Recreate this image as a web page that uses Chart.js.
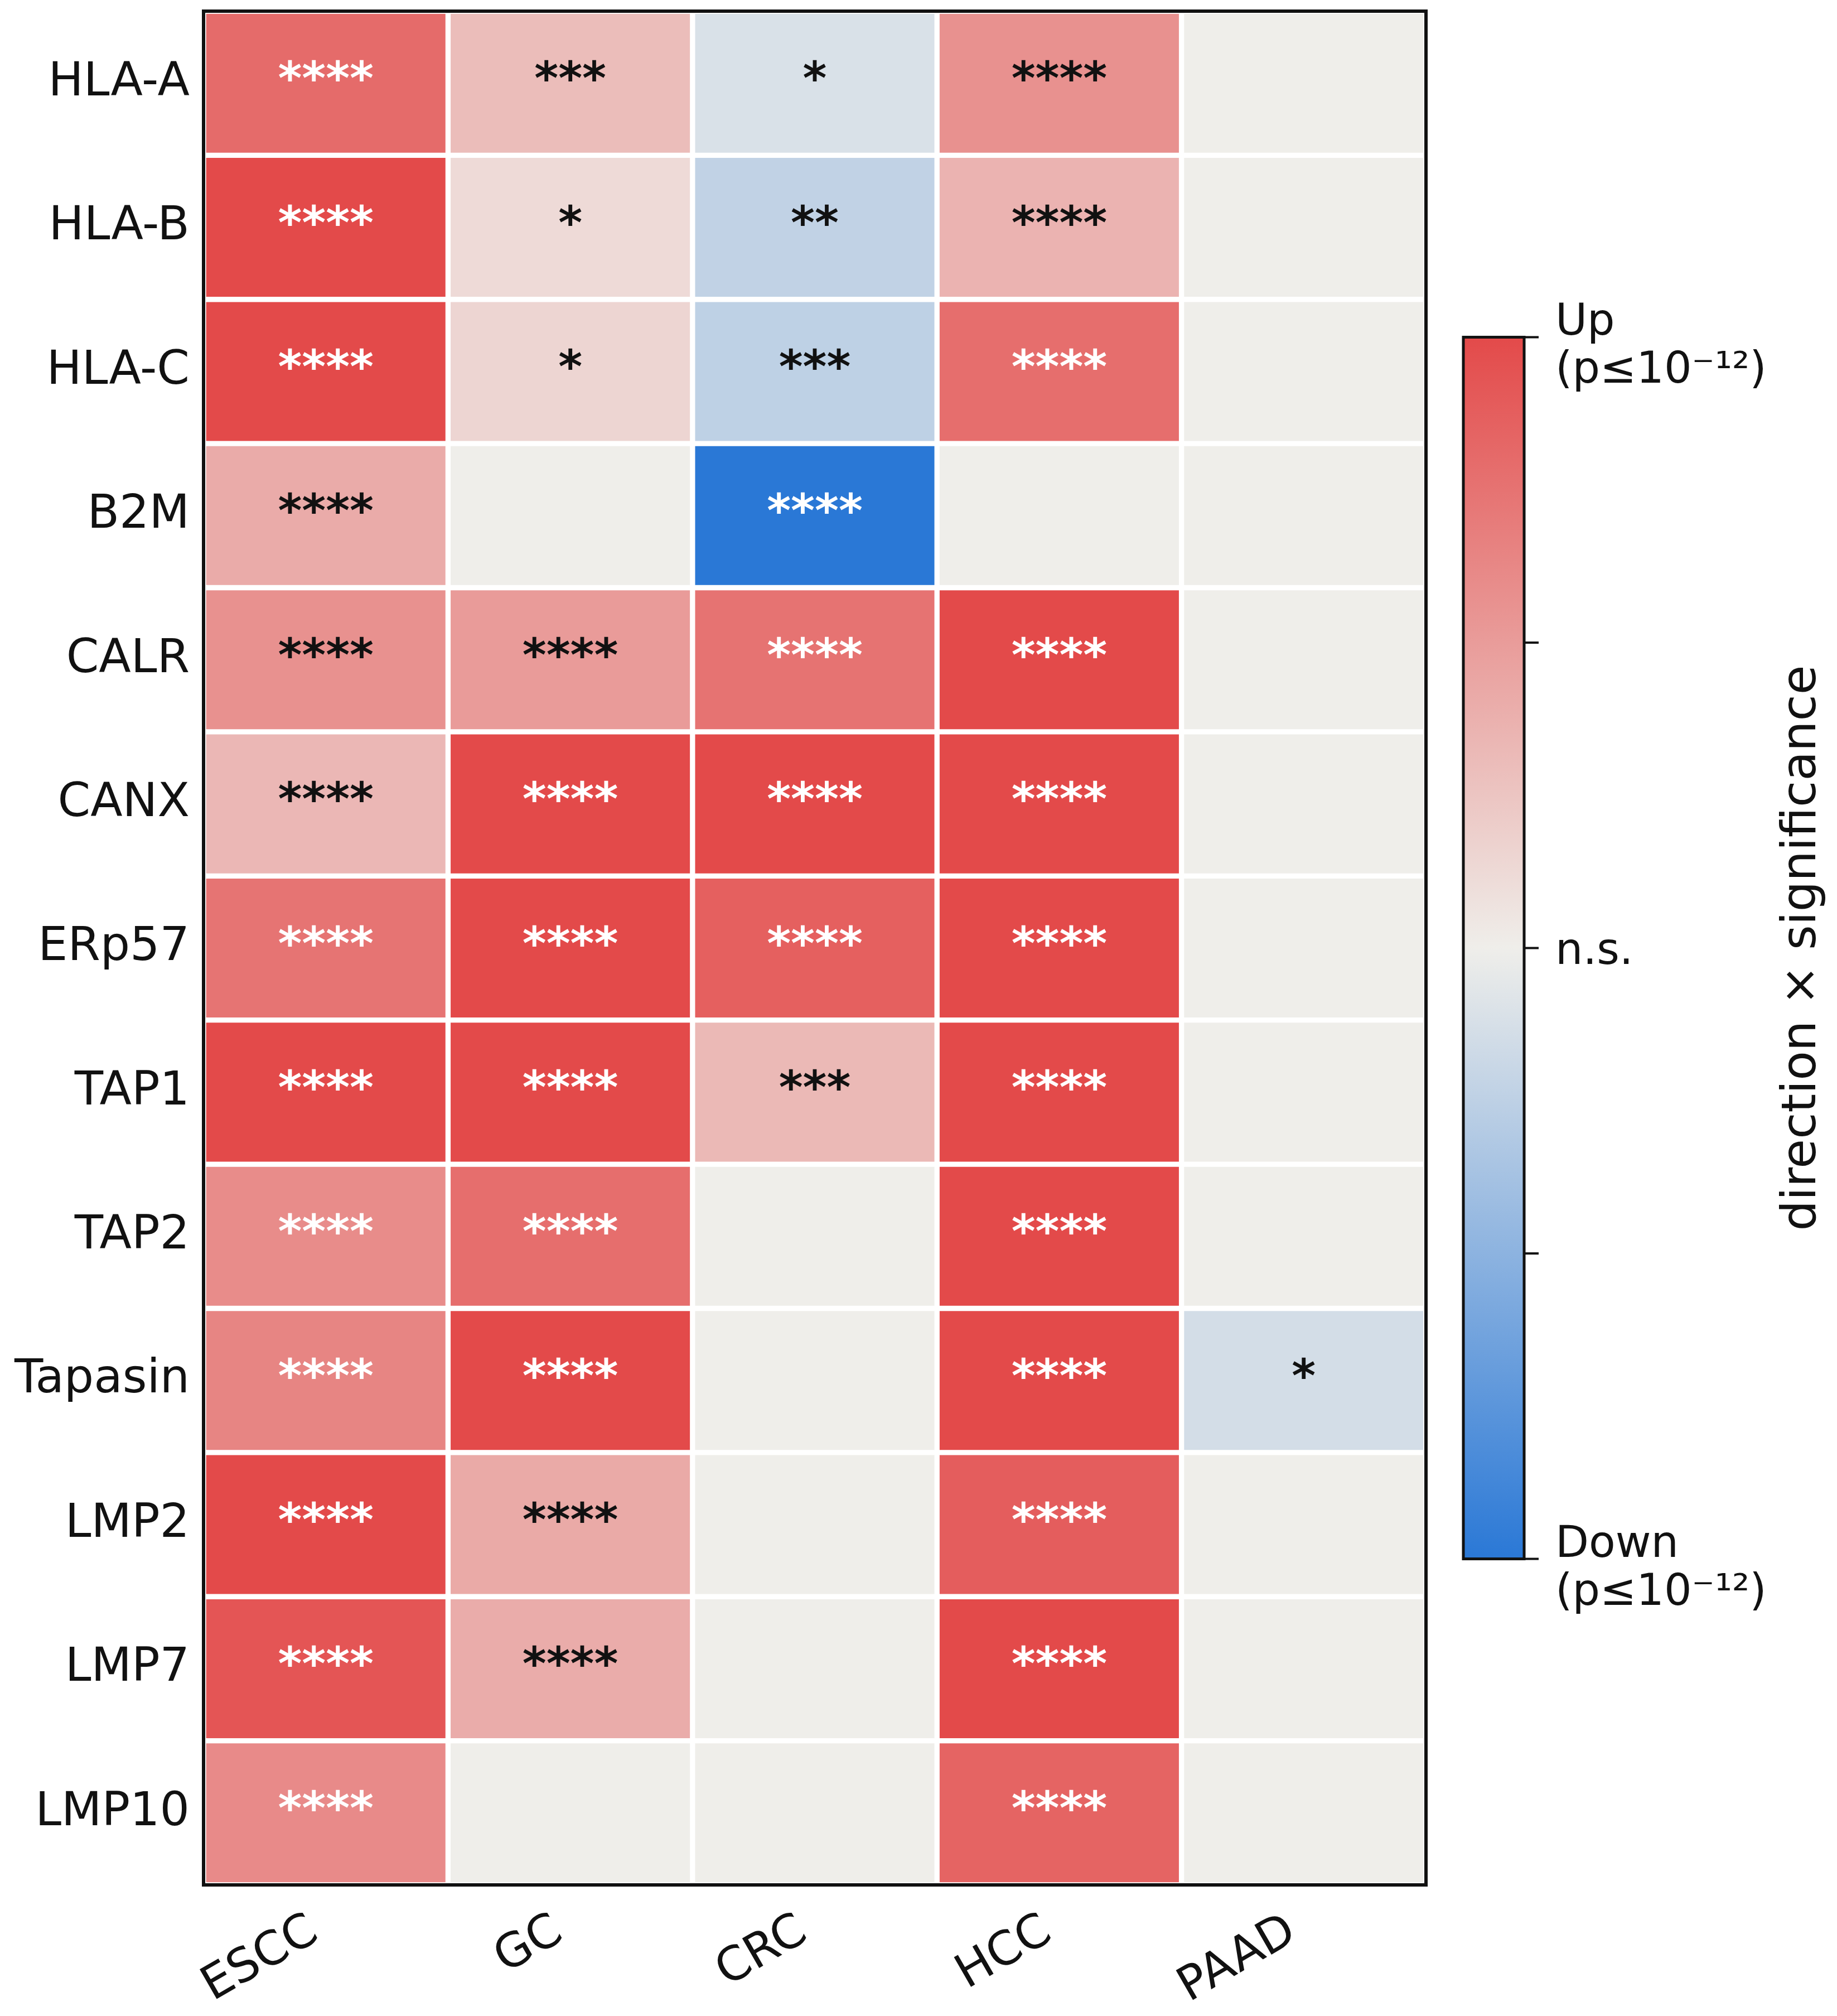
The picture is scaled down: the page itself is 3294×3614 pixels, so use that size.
<!DOCTYPE html>
<html>
<head>
<meta charset="utf-8">
<script src="https://cdn.jsdelivr.net/npm/chart.js@4.4.1/dist/chart.umd.min.js"></script>
<style>html,body{margin:0;padding:0;background:#ffffff;}canvas{display:block;}</style>
</head>
<body>
<canvas id="c" width="3294" height="3614"></canvas>
<script>
// ---- data ----
const genes = ["HLA-A","HLA-B","HLA-C","B2M","CALR","CANX","ERp57","TAP1","TAP2","Tapasin","LMP2","LMP7","LMP10"];
const cancers = ["ESCC","GC","CRC","HCC","PAAD"];
// signed -log10(p), capped at ±12 (positive = up, negative = down, 0 = n.s.)
const escc = [9.6, 12, 12, 4.9, 6.8, 4.0, 8.9, 12, 7.2, 7.7, 12, 11.2, 7.3];
const gc   = [3.6, 1.45, 1.8, 0, 6.1, 12, 12, 12, 9.4, 12, 5.0, 4.8, 0];
const crc  = [-1.35, -2.8, -3.0, -12, 9.0, 12, 10.4, 3.9, 0, 0, 0, 0, 0];
const hcc  = [6.8, 4.3, 9.4, 0, 12, 12, 12, 12, 12, 12, 10.6, 12, 10.1];
const paad = [0, 0, 0, 0, 0, 0, 0, 0, 0, -1.7, 0, 0, 0];
const esccStars = ["****","****","****","****","****","****","****","****","****","****","****","****","****"];
const gcStars   = ["***","*","*","","****","****","****","****","****","****","****","****",""];
const crcStars  = ["*","**","***","****","****","****","****","***","","","","",""];
const hccStars  = ["****","****","****","","****","****","****","****","****","****","****","****","****"];
const paadStars = ["","","","","","","","","","*","","",""];
const cbarTicks = [-12, -6, 0, 6, 12];
const cbarTickLabels = [["Down","(p\u226410\u207B\u00B9\u00B2)"], [], ["n.s."], [], ["Up","(p\u226410\u207B\u00B9\u00B2)"]];
const cbarTitle = "direction \u00D7 significance";
const lightTextAbove = 7.0;

const columns = [escc, gc, crc, hcc, paad];
const columnStars = [esccStars, gcStars, crcStars, hccStars, paadStars];

// ---- colour map ----
const cMid = [239, 238, 234], cUp = [227, 74, 74], cDown = [42, 120, 214];
function cmap(v) {
  const t = Math.max(-1, Math.min(1, v / 12));
  const end = t >= 0 ? cUp : cDown;
  const a = Math.abs(t);
  const c = cMid.map((m, i) => Math.round(m + (end[i] - m) * a));
  return `rgb(${c[0]},${c[1]},${c[2]})`;
}

const FONT = '"DejaVu Sans", "Liberation Sans", sans-serif';

const datasets = columns.map((vals, k) => ({
  label: cancers[k],
  data: vals.map(() => [k, k + 1]),
  backgroundColor: vals.map(cmap),
  borderColor: '#ffffff',
  borderWidth: 5,
  borderSkipped: false,
  grouped: false,
  barPercentage: 1,
  categoryPercentage: 1
}));

const starsPlugin = {
  id: 'stars',
  afterDatasetsDraw(chart) {
    const ctx = chart.ctx;
    ctx.save();
    ctx.font = 'bold 82px ' + FONT;
    ctx.textAlign = 'center';
    ctx.textBaseline = 'alphabetic';
    columns.forEach((vals, k) => {
      const meta = chart.getDatasetMeta(k);
      meta.data.forEach((el, i) => {
        const s = columnStars[k][i];
        if (!s) return;
        const p = el.getCenterPoint();
        ctx.fillStyle = Math.abs(vals[i]) >= lightTextAbove ? '#ffffff' : '#111111';
        ctx.fillText(s, p.x, p.y + 20);
      });
    });
    // frame
    const a = chart.chartArea;
    ctx.strokeStyle = '#111111';
    ctx.lineWidth = 6;
    ctx.strokeRect(a.left, a.top, a.right - a.left, a.bottom - a.top);
    ctx.restore();
  }
};

const colorbarPlugin = {
  id: 'colorbar',
  afterDraw(chart) {
    const ctx = chart.ctx;
    const a = chart.chartArea;
    const h = (a.bottom - a.top) * 0.652;
    const top = (a.top + a.bottom) / 2 - h / 2;
    const bottom = top + h;
    const left = a.right + 67;
    const right = left + 109;
    const yOf = v => bottom - (v - cbarTicks[0]) / (cbarTicks[cbarTicks.length - 1] - cbarTicks[0]) * h;
    ctx.save();
    const g = ctx.createLinearGradient(0, top, 0, bottom);
    g.addColorStop(0, cmap(12));
    g.addColorStop(0.5, cmap(0));
    g.addColorStop(1, cmap(-12));
    ctx.fillStyle = g;
    ctx.fillRect(left, top, right - left, h);
    ctx.strokeStyle = '#111111';
    ctx.lineWidth = 5;
    ctx.strokeRect(left, top, right - left, h);
    // ticks + labels
    ctx.lineWidth = 4;
    ctx.fillStyle = '#111111';
    ctx.font = '78px ' + FONT;
    ctx.textAlign = 'left';
    ctx.textBaseline = 'alphabetic';
    cbarTicks.forEach((v, i) => {
      const y = yOf(v);
      ctx.beginPath();
      ctx.moveTo(right, y);
      ctx.lineTo(right + 26, y);
      ctx.stroke();
      const lines = cbarTickLabels[i];
      if (lines.length === 1) {
        ctx.fillText(lines[0], right + 56, y + 28);
      } else if (lines.length === 2) {
        ctx.fillText(lines[0], right + 56, y - 4);
        ctx.fillText(lines[1], right + 56, y + 82);
      }
    });
    // title
    ctx.font = '86px ' + FONT;
    ctx.textAlign = 'center';
    ctx.translate(right + 522, (top + bottom) / 2);
    ctx.rotate(-Math.PI / 2);
    ctx.fillText(cbarTitle, 0, 0);
    ctx.restore();
  }
};

new Chart(document.getElementById('c'), {
  type: 'bar',
  data: { labels: genes, datasets },
  options: {
    indexAxis: 'y',
    responsive: false,
    animation: false,
    devicePixelRatio: 1,
    layout: { padding: { left: 0, top: 20, right: 737, bottom: 0 } },
    plugins: { legend: { display: false }, tooltip: { enabled: false } },
    scales: {
      y: {
        type: 'category',
        grid: { display: false, drawTicks: false },
        border: { display: false },
        ticks: { color: '#111111', font: { family: FONT, size: 84 }, padding: 25 },
        afterFit(s) { s.width = 365; s.paddingTop = 0; s.paddingBottom = 0; }
      },
      x: {
        type: 'linear',
        min: 0,
        max: cancers.length,
        grid: { display: false, drawTicks: false },
        border: { display: false },
        afterBuildTicks(s) { s.ticks = cancers.map((c, i) => ({ value: i + 0.5 })); },
        ticks: {
          autoSkip: false,
          minRotation: 30,
          maxRotation: 30,
          padding: 34,
          labelOffset: -20,
          color: '#111111',
          font: { family: FONT, size: 84 },
          callback: v => cancers[Math.floor(v)]
        },
        afterFit(s) { s.height = 235; s.paddingLeft = 0; s.paddingRight = 0; }
      }
    }
  },
  plugins: [starsPlugin, colorbarPlugin]
});
</script>
</body>
</html>
